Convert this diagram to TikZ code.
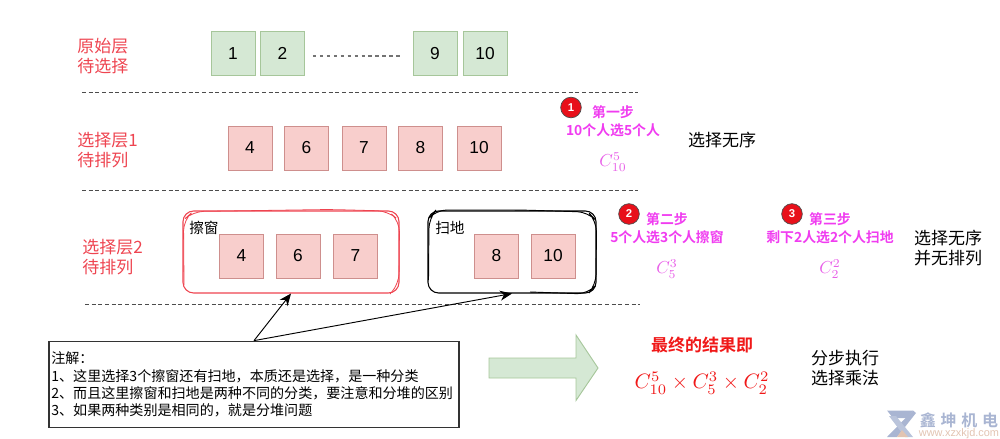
\documentclass[tikz,border=0pt]{standalone}
\usepackage[no-math]{fontspec}
\setmainfont{Liberation Sans}
\newfontfamily\cjk{Noto Sans CJK SC}
\newfontfamily\cjkb{Noto Sans CJK SC Bold}
\usetikzlibrary{arrows.meta,shapes.arrows}
\definecolor{gfill}{HTML}{D5E8D4}
\definecolor{gline}{HTML}{A6C69A}
\definecolor{rfill}{HTML}{F8CECC}
\definecolor{rline}{HTML}{CE8F8D}
\definecolor{labred}{HTML}{EE4450}
\definecolor{stepmag}{HTML}{F03CF0}
\definecolor{mathmag}{HTML}{E860E8}
\definecolor{markred}{HTML}{E8101A}
\definecolor{finalred}{HTML}{F01818}
\definecolor{wm}{HTML}{A9B5D2}
\definecolor{wmtan}{HTML}{E2C4B2}
\tikzset{
  x=0.75pt,y=-0.75pt,
  gbox/.style={draw=gline,fill=gfill,line width=0.7pt,minimum width=33pt,minimum height=33pt,inner sep=0pt,font=\fontsize{13}{15}\selectfont},
  rbox/.style={draw=rline,fill=rfill,line width=0.7pt,minimum width=33pt,minimum height=33pt,inner sep=0pt,font=\fontsize{13}{15}\selectfont},
  layerlabel/.style={anchor=west,inner sep=0pt,align=left,text=labred,font=\cjk\fontsize{12.75}{15}\selectfont},
  blacklabel/.style={inner sep=0pt,align=left,font=\cjk\fontsize{12.75}{15}\selectfont},
  grouplabel/.style={anchor=west,inner sep=0pt,font=\cjk\fontsize{11}{13}\selectfont},
  steptext/.style={inner sep=0pt,align=center,text=stepmag,font=\cjkb\fontsize{10.4}{13.5}\selectfont},
  stepmark/.style={circle,draw=black!70,fill=markred,line width=0.5pt,minimum size=15.5pt,inner sep=0pt,text=white,font=\bfseries\fontsize{8.5}{10}\selectfont},
  mathlabel/.style={inner sep=0pt,text=mathmag,scale=1.3},
  divider/.style={densely dashed,draw=black!70,line width=0.6pt},
  pointer/.style={draw=black,line width=0.7pt,-{Stealth[length=9pt,width=7.5pt]}},
}
\begin{document}
\begin{tikzpicture}
\useasboundingbox (0,0) rectangle (1000,439);
% labels
\node[layerlabel] (l0) at (77,56) {原始层\\待选择};
\node[layerlabel] (l1) at (77,150) {选择层1\\待排列};
\node[layerlabel] (l2) at (82,257) {选择层2\\待排列};
% raw layer
\node[gbox] (g1) at (233,53.5) {1};
\node[gbox] (g2) at (282.5,53.5) {2};
\node[gbox] (g9) at (435,53.5) {9};
\node[gbox] (g10) at (485,53.5) {10};
\draw[draw=black!55,line width=1pt,dash pattern=on 2.6pt off 2.6pt] (g2.east)++(8,2.5) coordinate (ds) -- ++(88,0) coordinate (de);
% dividers
\coordinate (d1a) at (82,92); \coordinate (d1b) at (638,92);
\coordinate (d2a) at (82,190.5); \coordinate (d2b) at (638,190.5);
\coordinate (d3a) at (85,304); \coordinate (d3b) at (640,304);
\draw[divider] (d1a) -- (d1b);
\draw[divider] (d2a) -- (d2b);
\draw[divider] (d3a) -- (d3b);
% layer 1
\node[rbox] (a4) at (250,148) {4};
\node[rbox] (a6) at (306.5,148) {6};
\node[rbox] (a7) at (364,148) {7};
\node[rbox] (a8) at (420.5,148) {8};
\node[rbox] (a10) at (479,148) {10};
% groups
\node[draw=labred,rounded corners=8pt,line width=0.8pt,minimum width=162pt,minimum height=61.5pt,inner sep=0pt] (redbox) at (291,252) {};
\draw[draw=labred,line width=0.6pt,rounded corners=8pt] (184,285) -- (183.5,220) -- (193,211.5) -- (330,209.5) -- (388,211) -- (399.5,221) -- (399,284) -- (390,294);
\node[draw=black,rounded corners=8pt,line width=0.8pt,minimum width=126pt,minimum height=61.5pt,inner sep=0pt] (blackbox) at (512,252) {};
\draw[draw=black,line width=0.7pt,rounded corners=8pt] (428.5,280) -- (429,218) -- (436,210) -- (520,210) -- (588,212) -- (596.5,221) -- (596,285) -- (588,294) -- (530,292);
\node[grouplabel] (t1) at (189,227.5) {擦窗};
\node[grouplabel] (t2) at (435,227.5) {扫地};
\node[rbox] (b4) at (241.5,256) {4};
\node[rbox] (b6) at (298,256) {6};
\node[rbox] (b7) at (355.5,256) {7};
\node[rbox] (b8) at (496.5,256) {8};
\node[rbox] (b10) at (553,256) {10};
% note
\node[draw=black!80,fill=white,line width=0.8pt,minimum width=307.5pt,minimum height=65pt,inner sep=1.5pt,text width=304pt,align=left,font=\cjk\fontsize{10.55}{13}\selectfont] (note) at (254,384.5) {注解：\\1、这里选择3个擦窗还有扫地，本质还是选择，是一种分类\\2、而且这里擦窗和扫地是两种不同的分类，要注意和分堆的区别\\3、如果两种类别是相同的，就是分堆问题};
\draw[pointer] (note.north) -- (redbox.south);
\draw[pointer] (note.north) -- (blackbox.south);
% big arrow
\draw[draw=gline,fill=gfill,line width=0.7pt] (489,358) coordinate (ar0) -- (576,358) -- (576,335) -- (598,368) -- (576,400.5) -- (576,378) -- (489,378) -- cycle;
% steps
\node[stepmark] (m1) at (571,107.5) {1};
\node[steptext] (s1) at (613,121) {第一步\\10个人选5个人};
\node[mathlabel] (f1) at (613,162) {$C_{10}^{5}$};
\node[blacklabel] (r1) at (722,140) {选择无序};
\node[stepmark] (m2) at (629,214) {2};
\node[steptext] (s2) at (667,228) {第二步\\5个人选3个人擦窗};
\node[mathlabel] (f2) at (667,269) {$C_{5}^{3}$};
\node[stepmark] (m3) at (792,214) {3};
\node[steptext] (s3) at (830,228) {第三步\\剩下2人选2个人扫地};
\node[mathlabel] (f3) at (830,269) {$C_{2}^{2}$};
\node[blacklabel] (r2) at (948,248) {选择无序\\并无排列};
% final
\node[inner sep=0pt,text=finalred,font=\cjkb\fontsize{12.75}{15}\selectfont] (fin) at (702,345) {最终的结果即};
\node[inner sep=0pt,text=finalred,scale=1.56] (finf) at (702,383) {$C_{10}^{5}\times C_{5}^{3}\times C_{2}^{2}$};
\node[blacklabel] (r3) at (845,368) {分步执行\\选择乘法};
% watermark
\fill[wm] (887,410.5) -- (913,410.5) -- (907,418) -- (893,418) -- cycle;
\fill[wm] (913,410.5) -- (916,413) -- (897,437) -- (887,437) -- cycle;
\fill[wm!80] (889,416) -- (896,416) -- (913,437) -- (905,437) -- cycle;
\fill[wmtan] (897,437) -- (902,430) -- (908,437) -- cycle;
\node[inner sep=0pt,text=wm,font=\cjkb\fontsize{12}{14}\selectfont] (wm1) at (959,420) {鑫\hspace{3.6pt}坤\hspace{3.6pt}机\hspace{3.6pt}电};
\node[inner sep=0pt,text=wmtan,font=\fontsize{8.2}{9}\selectfont] (wm2) at (959,433.5) {www.xzxkjd.com};
\end{tikzpicture}
\end{document}
